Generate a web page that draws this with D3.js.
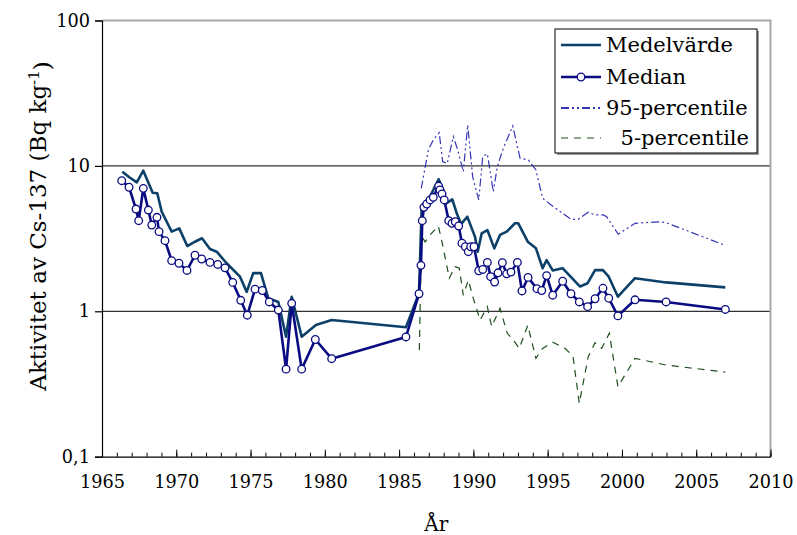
<!DOCTYPE html>
<html><head><meta charset="utf-8">
<script src="https://cdn.jsdelivr.net/npm/d3@7"></script>
<style>body{margin:0;background:#fff}svg{display:block}</style>
</head><body>
<svg id="c" width="797" height="535"></svg>
<script>
// ---- data ----
const medianYears = [1966.33,1966.82,1967.29,1967.47,1967.78,1968.12,1968.35,1968.70,1968.84,1969.24,1969.69,1970.18,1970.72,1971.26,1971.71,1972.27,1972.79,1973.28,1973.80,1974.34,1974.78,1975.30,1975.79,1976.26,1976.87,1977.39,1977.77,1978.44,1979.36,1980.46,1985.46,1986.34,1986.47,1986.56,1986.67,1986.86,1987.08,1987.30,1987.66,1987.75,1987.89,1988.04,1988.34,1988.56,1988.78,1989.01,1989.23,1989.46,1989.66,1989.82,1990.04,1990.36,1990.63,1990.94,1991.16,1991.43,1991.66,1991.95,1992.24,1992.53,1992.96,1993.27,1993.68,1994.28,1994.60,1994.93,1995.34,1996.01,1996.57,1997.13,1997.69,1998.19,1998.72,1999.11,1999.73,2000.88,2002.97,2006.96];
const medianValues = [7.91,7.13,5.05,4.20,7.01,4.97,3.92,4.43,3.53,3.06,2.23,2.14,1.91,2.43,2.29,2.17,2.10,1.99,1.58,1.19,0.94,1.42,1.39,1.16,1.02,0.40,1.135,0.40,0.64,0.472,0.666,1.32,2.07,4.20,5.19,5.47,5.83,6.08,7.27,6.83,6.41,5.83,4.20,4.03,4.13,3.86,2.94,2.78,2.57,2.78,2.78,1.90,1.94,2.17,1.73,1.59,1.84,2.16,1.81,1.86,2.17,1.38,1.71,1.43,1.39,1.76,1.29,1.61,1.32,1.16,1.076,1.22,1.44,1.23,0.93,1.20,1.16,1.03];

const meanYears = [1966.37,1966.84,1967.34,1967.78,1968.41,1968.72,1969.02,1969.69,1970.20,1970.74,1971.26,1971.73,1972.27,1972.72,1973.39,1974.29,1974.74,1975.18,1975.70,1976.19,1976.87,1977.39,1977.77,1978.44,1979.40,1980.46,1985.46,1986.34,1986.52,1987.08,1987.66,1987.97,1988.20,1988.58,1988.88,1989.17,1989.59,1989.89,1990.11,1990.29,1990.56,1990.94,1991.41,1991.79,1992.24,1992.80,1993.02,1993.66,1994.21,1994.66,1994.93,1995.34,1996.00,1997.18,1997.69,1998.19,1998.72,1999.11,1999.73,2000.88,2002.97,2006.96];
const meanValues = [9.12,8.35,7.71,9.27,6.54,6.48,4.84,3.53,3.72,2.81,3.01,3.18,2.68,2.57,2.14,1.73,1.36,1.83,1.83,1.23,1.16,0.669,1.26,0.669,0.805,0.871,0.776,1.33,5.24,6.14,8.09,6.83,5.53,5.89,4.72,3.98,4.47,3.72,3.26,2.57,3.44,3.62,2.71,3.35,3.53,4.03,4.03,3.01,2.71,1.98,2.25,1.91,1.98,1.48,1.56,1.92,1.92,1.73,1.26,1.69,1.58,1.46];

const p95Years = [1986.49,1986.97,1987.30,1987.70,1987.93,1988.24,1988.65,1988.94,1989.32,1989.62,1989.95,1990.36,1990.63,1990.94,1991.34,1991.61,1992.01,1992.65,1993.14,1993.70,1994.21,1994.66,1995.38,1996.58,1997.06,1997.73,1998.19,1998.75,1998.97,1999.75,2000.88,2002.56,2002.97,2006.96];
const p95Values = [7.0,12.9,15.1,16.9,10.7,10.4,15.9,12.9,9.12,19.1,8.43,5.83,11.6,12.1,6.65,9.87,13.2,18.8,11.3,11.0,9.37,5.99,5.24,4.29,4.29,4.80,4.60,4.60,4.47,3.39,4.03,4.13,4.07,2.84];

const p5Years = [1986.36,1986.51,1986.75,1987.08,1987.64,1987.86,1988.38,1988.76,1989.05,1989.32,1989.66,1989.99,1990.45,1990.94,1991.23,1991.79,1992.28,1992.69,1993.09,1993.66,1994.21,1994.66,1995.34,1996.17,1996.70,1997.13,1997.73,1998.19,1998.64,1999.15,1999.73,2000.88,2002.97,2006.96];
const p5Values = [0.542,3.3,3.0,3.35,3.86,3.09,1.69,2.03,1.98,1.29,1.64,1.23,0.871,1.076,0.784,1.05,0.706,0.635,0.556,0.801,0.475,0.556,0.612,0.556,0.493,0.233,0.487,0.608,0.556,0.706,0.303,0.475,0.427,0.382];

const xTickYears = [1965,1970,1975,1980,1985,1990,1995,2000,2005,2010];
const yTickValues = [0.1,1,10,100];
const yTickLabels = ["0,1","1","10","100"];
const legendLabels = ["Medelvärde","Median","95-percentile","5-percentile"];

// ---- chart ----
const svg = d3.select("#c");
const L = 102, R = 770.5, T = 20.5, B = 456.7;
const x = d3.scaleLinear().domain([1965,2010]).range([L,R]);
const y = d3.scaleLog().domain([0.1,100]).range([B,T]);
const FONT = "'DejaVu Serif'";

// gridlines at 1 and 10
svg.append("g").selectAll("line").data([1,10]).join("line")
  .attr("x1",L).attr("x2",R).attr("y1",d=>y(d)).attr("y2",d=>y(d))
  .attr("stroke","#333").attr("stroke-width",1.2);

// frame top/right (gray)
svg.append("path").attr("d",`M${L},${T}H${R}V${B}`)
  .attr("fill","none").attr("stroke","#a6a6a6").attr("stroke-width",2);

// y axis
const yAxis = d3.axisLeft(y).tickValues(yTickValues).tickSize(7).tickPadding(5)
  .tickFormat((d,i)=>yTickLabels[i]);
const gy = svg.append("g").attr("transform",`translate(${L},0)`).call(yAxis);
gy.select(".domain").attr("stroke","#000").attr("stroke-width",1.2);
gy.selectAll(".tick line").attr("stroke","#000").attr("stroke-width",1.2);
gy.selectAll("text").style("font-family",FONT).style("font-size","17.7px").attr("fill","#000");

// x axis minor ticks
const xMinor = d3.axisBottom(x).tickValues(d3.range(1965,2011)).tickSize(-4).tickFormat("").tickSizeOuter(0);
const gxm = svg.append("g").attr("transform",`translate(0,${B})`).call(xMinor);
gxm.select(".domain").attr("stroke","#000").attr("stroke-width",1.2);
gxm.selectAll(".tick line").attr("stroke","#000");
const xMajor = d3.axisBottom(x).tickValues(xTickYears).tickSize(-7).tickPadding(28).tickFormat(d3.format("d")).tickSizeOuter(0);
const gx = svg.append("g").attr("transform",`translate(0,${B})`).call(xMajor);
gx.select(".domain").remove();
gx.selectAll(".tick line").attr("stroke","#000");
gx.selectAll("text").style("font-family",FONT).style("font-size","17.7px").attr("fill","#000").attr("dy","0.2em");

// axis titles
svg.append("text").attr("x",(L+R)/2).attr("y",531).attr("text-anchor","middle")
  .style("font-family",FONT).style("font-size","20px").text("År");
const yt = svg.append("text").attr("transform","translate(46,226) rotate(-90)").attr("text-anchor","middle")
  .style("font-family",FONT).style("font-size","23px");
yt.append("tspan").text("Aktivitet av Cs-137 (Bq kg");
yt.append("tspan").attr("dy","-0.5em").style("font-size","15px").text("-1");
yt.append("tspan").attr("dy","0.5em").text(")");

// lines
const line = d3.line().x(d=>x(d[0])).y(d=>y(d[1]));
const zip = (a,b)=>a.map((v,i)=>[v,b[i]]);

svg.append("path").datum(zip(p5Years,p5Values)).attr("d",line)
  .attr("fill","none").attr("stroke","#1f4f1f").attr("stroke-width",1.2).attr("stroke-dasharray","7,6");
svg.append("path").datum(zip(p95Years,p95Values)).attr("d",line)
  .attr("fill","none").attr("stroke","#3535b5").attr("stroke-width",1.2).attr("stroke-dasharray","8,3,2,3,2,3");
svg.append("path").datum(zip(meanYears,meanValues)).attr("d",line)
  .attr("fill","none").attr("stroke","#0d4068").attr("stroke-width",2.6).attr("stroke-linejoin","round");
const med = zip(medianYears,medianValues);
svg.append("path").datum(med).attr("d",line)
  .attr("fill","none").attr("stroke","#0a0a82").attr("stroke-width",2.6).attr("stroke-linejoin","round");
svg.append("g").selectAll("circle").data(med).join("circle")
  .attr("cx",d=>x(d[0])).attr("cy",d=>y(d[1])).attr("r",3.8)
  .attr("fill","#fff").attr("stroke","#0a0a82").attr("stroke-width",1.3);

// legend
const lg = svg.append("g");
lg.append("rect").attr("x",557).attr("y",31).attr("width",202).attr("height",124).attr("fill","#999");
lg.append("rect").attr("x",555).attr("y",29).attr("width",202).attr("height",124)
  .attr("fill","#fff").attr("stroke","#000").attr("stroke-width",1);
const rowsY = [45,77,108,138];
const styles = [
  {stroke:"#0d4068",w:2.6,dash:null,marker:false},
  {stroke:"#0a0a82",w:2.6,dash:null,marker:true},
  {stroke:"#3535b5",w:2,dash:"8,3,2,3,2,3",marker:false},
  {stroke:"#1f4f1f",w:1.2,dash:"7,6",marker:false}
];
legendLabels.forEach((lab,i)=>{
  const s = styles[i];
  lg.append("line").attr("x1",561).attr("x2",601).attr("y1",rowsY[i]).attr("y2",rowsY[i])
    .attr("stroke",s.stroke).attr("stroke-width",s.w).attr("stroke-dasharray",s.dash);
  if (s.marker) lg.append("circle").attr("cx",581).attr("cy",rowsY[i]).attr("r",3.8)
    .attr("fill","#fff").attr("stroke",s.stroke).attr("stroke-width",1.3);
  lg.append("text").attr("x", i===3 ? 749 : 606).attr("y",rowsY[i]).attr("dy","0.35em")
    .attr("text-anchor", i===3 ? "end" : "start")
    .style("font-family",FONT).style("font-size","21px").attr("fill","#000").text(lab);
});
</script>
</body></html>
